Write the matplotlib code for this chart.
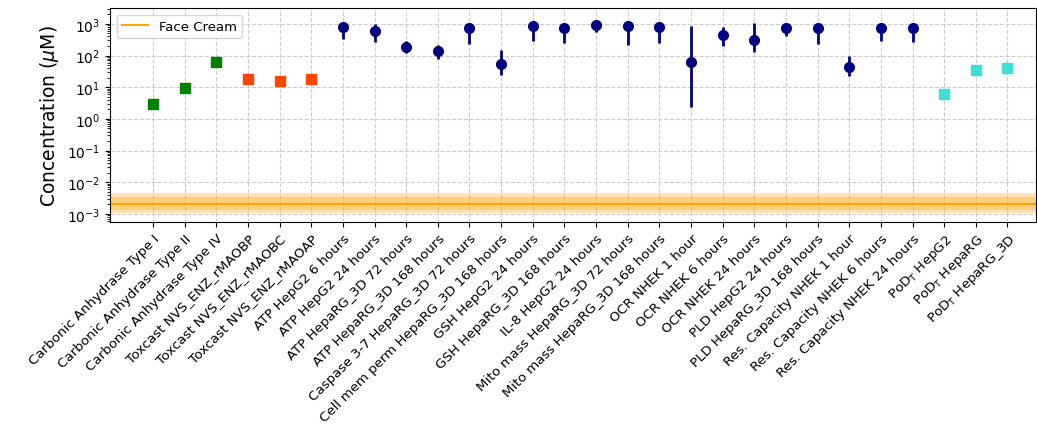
import numpy as np
import matplotlib
matplotlib.use("Agg")
import matplotlib.pyplot as plt

categories = [
    "Carbonic Anhydrase Type I", "Carbonic Anhydrase Type II", "Carbonic Anhydrase Type IV",
    "Toxcast NVS_ENZ_rMAOBP", "Toxcast NVS_ENZ_rMAOBC", "Toxcast NVS_ENZ_rMAOAP",
    "ATP HepG2 6 hours", "ATP HepG2 24 hours", "ATP HepaRG_3D 72 hours", "ATP HepaRG_3D 168 hours",
    "Caspase 3-7 HepaRG_3D 72 hours", "Cell mem perm HepaRG_3D 168 hours",
    "GSH HepG2 24 hours", "GSH HepaRG_3D 168 hours", "IL-8 HepG2 24 hours",
    "Mito mass HepaRG_3D 72 hours", "Mito mass HepaRG_3D 168 hours",
    "OCR NHEK 1 hour", "OCR NHEK 6 hours", "OCR NHEK 24 hours",
    "PLD HepG2 24 hours", "PLD HepaRG_3D 168 hours",
    "Res. Capacity NHEK 1 hour", "Res. Capacity NHEK 6 hours", "Res. Capacity NHEK 24 hours",
    r"PoD$_\mathrm{T}$ HepG2", r"PoD$_\mathrm{T}$ HepaRG", r"PoD$_\mathrm{T}$ HepaRG_3D",
]

# Enzyme assays (squares)
ca_values = [3.0, 9.1, 62.0]
maoa_values = [18.4, 15.5, 18.8]

# In vitro assays (circles with error bars)
assay_values = [785, 600, 184, 134, 748, 55, 845, 748, 905, 865, 822,
                61, 460, 312, 748, 765, 43, 765, 765]
assay_lower = [340, 265, 122, 80, 223, 23.4, 277, 251, 548, 218, 251,
               2.45, 198, 125, 409, 223, 21.9, 284, 265]
assay_upper = [950, 970, 295, 210, 900, 151, 1000, 900, 1050, 1000, 950,
               845, 822, 1070, 900, 900, 100, 900, 900]

# PoD_T (squares)
pod_values = [5.9, 36.0, 41.0]

# Face cream exposure
face_cream = 0.0021
face_cream_band_outer = (0.00107, 0.0046)
face_cream_band_inner = (0.00135, 0.0035)

fig = plt.figure(figsize=(10.37, 4.27), dpi=100)
ax = fig.add_axes([0.106, 0.478, 0.893, 0.501])

x = np.arange(len(categories))
x_ca = x[0:3]
x_mao = x[3:6]
x_assay = x[6:25]
x_pod = x[25:28]

ax.set_yscale("log")
ax.grid(True, which="major", linestyle="--", color="#cccccc", linewidth=0.8)
ax.set_axisbelow(True)

ax.axhspan(*face_cream_band_outer, color="orange", alpha=0.3, lw=0)
ax.axhspan(*face_cream_band_inner, color="orange", alpha=0.3, lw=0)
ax.axhline(face_cream, color="orange", lw=1.5, label="Face Cream")

ax.plot(x_ca, ca_values, "s", color="green", ms=6.5, ls="none")
ax.plot(x_mao, maoa_values, "s", color="orangered", ms=6.5, ls="none")
vals = np.array(assay_values, float)
yerr = np.vstack([vals - np.array(assay_lower), np.array(assay_upper) - vals])
ax.errorbar(x_assay, vals, yerr=yerr, fmt="o", color="navy", ms=7, elinewidth=2, capsize=0)
ax.plot(x_pod, pod_values, "s", color="turquoise", ms=6.5, ls="none")

ax.set_ylim(10 ** -3.25, 10 ** 3.5)
ax.set_xlim(-1.36, 27.9)
ax.set_xticks(x)
ax.set_xticklabels(categories, rotation=45, ha="right", rotation_mode="anchor", fontsize=9.6)
ax.set_yticks([1e-3, 1e-2, 1e-1, 1e0, 1e1, 1e2, 1e3])
ax.tick_params(axis="y", labelsize=10)
ax.set_ylabel(r"Concentration ($\mu$M)", fontsize=13.5)
ax.legend(loc="upper left", fontsize=9.5)

fig.savefig("out.png", dpi=100)
